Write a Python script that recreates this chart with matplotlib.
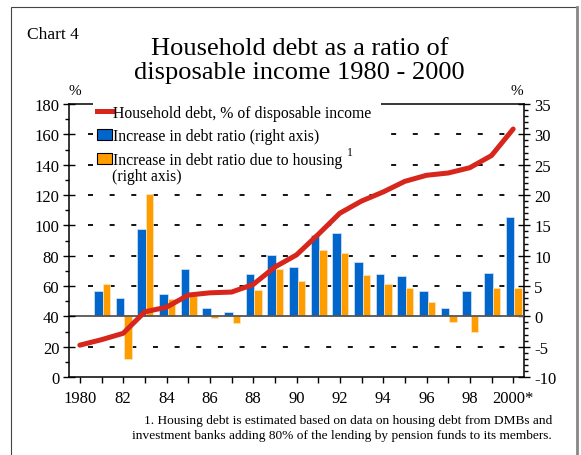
import matplotlib
matplotlib.use("Agg")
import matplotlib.pyplot as plt
import matplotlib.ticker as mticker
from matplotlib.patches import Rectangle, Patch
from matplotlib.lines import Line2D
import numpy as np

plt.rcParams['font.family'] = ['Liberation Serif', 'DejaVu Serif']
plt.rcParams['lines.scale_dashes'] = False
plt.rcParams['axes.unicode_minus'] = False

# household debt, % of disposable income (left axis)
years = list(range(1980, 2001))
debt_ratio = [21, 24.6, 28.8, 43, 46, 54, 55.5, 56, 61, 72.5, 80.5,
              94, 108, 116, 122, 129, 133, 134.5, 138, 146, 163.5]

# yearly increases (right axis)
bar_years = list(range(1981, 2001))
debt_increase = [4.2, 3.1, 14.45, 3.6, 7.75, 1.3, 0.77, 7.0, 10.05, 8.2,
                 13.4, 13.7, 8.9, 7.0, 6.7, 4.1, 1.3, 4.1, 7.2, 16.3]
housing_increase = [5.4, -7.1, 20.1, 2.8, 3.3, -0.35, -1.05, 4.3, 7.75, 5.9,
                    11.0, 10.5, 6.8, 5.4, 4.6, 2.3, -1.0, -2.6, 4.6, 4.7]

xtick_labels = ['1980', '', '82', '', '84', '', '86', '', '88', '', '90',
                '', '92', '', '94', '', '96', '', '98', '', '2000*']
grid_levels = [30, 25, 20, 15, 10, 5, -5]

RED = '#d7261b'
BLUE = '#0066cc'
ORANGE = '#ff9d00'

fig = plt.figure(figsize=(5.81, 4.56), dpi=100)
ax = fig.add_axes([69/581, 1-378/456, 455/581, 273/456])
axr = ax.twinx()
ax.set_zorder(2)
axr.set_zorder(1)
ax.patch.set_visible(False)

# bars on the right axis
bx = np.array(bar_years)
axr.bar(bx - 0.15, debt_increase, width=0.40, color=BLUE,
        edgecolor='#d8e6f7', linewidth=0.5, zorder=2)
axr.bar(bx + 0.22, housing_increase, width=0.34, color=ORANGE,
        edgecolor='#fde7c0', linewidth=0.5, zorder=2)
for lv in grid_levels:
    axr.hlines(lv, 1980.385, 2000.0, colors='black', linewidth=1.3,
               linestyles=(0, (3.6, 11.99)), zorder=1)
axr.axhline(0, color='#555555', lw=1.3, zorder=3)

# debt line on the left axis
ax.plot(years, debt_ratio, color=RED, lw=3.6, solid_capstyle='round', zorder=4.5)

ax.set_xlim(1979.5, 2000.5)
ax.set_ylim(0, 180)
axr.set_ylim(-10, 35)

ax.set_xticks(years)
ax.set_xticklabels(xtick_labels)
ax.set_yticks(range(0, 181, 20))
ax.yaxis.set_minor_locator(mticker.MultipleLocator(10))
axr.set_yticks(range(-10, 36, 5))
axr.yaxis.set_minor_locator(mticker.MultipleLocator(1))

ax.tick_params(axis='y', which='major', direction='inout', length=8, width=1, labelsize=12, pad=3)
ax.tick_params(axis='y', which='minor', direction='out', length=3, width=1)
ax.tick_params(axis='x', which='major', direction='out', length=4.3, width=1, labelsize=12, pad=5)
axr.tick_params(axis='y', which='major', direction='inout', length=8.6, width=1, labelsize=12, pad=3)
axr.tick_params(axis='y', which='minor', direction='out', length=3, width=1)

for s in ['left', 'bottom', 'top']:
    ax.spines[s].set_linewidth(1.1)
ax.spines['right'].set_visible(False)
for s in ['left', 'bottom', 'top']:
    axr.spines[s].set_visible(False)
axr.spines['right'].set_linewidth(1.1)

# white box behind the legend
ax.add_patch(Rectangle((0.053, 0.689), 0.633, 0.325, transform=ax.transAxes,
                       facecolor='white', edgecolor='none', zorder=4, clip_on=False))

handles = [Line2D([], [], color=RED, lw=3.6),
           Patch(facecolor=BLUE, edgecolor='black', linewidth=0.8),
           Patch(facecolor=ORANGE, edgecolor='black', linewidth=0.8)]
labels = ['Household debt, % of disposable income',
          'Increase in debt ratio (right axis)',
          'Increase in debt ratio due to housing']
leg = ax.legend(handles, labels, loc='upper left', bbox_to_anchor=(0.0615, 0.998),
                frameon=False, fontsize=11.3, handlelength=0.95, handleheight=0.7,
                handletextpad=0.05, labelspacing=0.5, borderaxespad=0, borderpad=0)
leg.set_zorder(5)
ax.text(0.0945, 0.737, '(right axis)', transform=ax.transAxes, fontsize=11.3,
        ha='left', va='center', zorder=6)
ax.text(0.611, 0.826, '1', transform=ax.transAxes, fontsize=8.5,
        ha='left', va='center', zorder=6)

fig.text(75/581, 1-92/456, '%', ha='center', va='center', fontsize=11)
fig.text(517/581, 1-92/456, '%', ha='center', va='center', fontsize=11)
fig.text(27/581, 1-35/456, 'Chart 4', ha='left', va='center', fontsize=12.5)
fig.text(0.516, 0.866, 'Household debt as a ratio of\ndisposable income 1980 - 2000',
         ha='center', va='center', fontsize=19, linespacing=1.12)
fig.text(552/581, 1-428.5/456,
         '1. Housing debt is estimated based on data on housing debt from DMBs and\n'
         'investment banks adding 80% of the lending by pension funds to its members.',
         ha='right', va='center', multialignment='right', fontsize=9.6, linespacing=1.3)

fig.add_artist(Rectangle((11/581, -0.05), 566/581, (456-8)/456 + 0.05,
                         transform=fig.transFigure, fill=False, edgecolor='#444444', lw=0.8))
fig.add_artist(Line2D([577/581, 577/581], [0, 1-8/456], transform=fig.transFigure,
                      color='#888888', lw=2))

fig.savefig('out.png', dpi=100)
